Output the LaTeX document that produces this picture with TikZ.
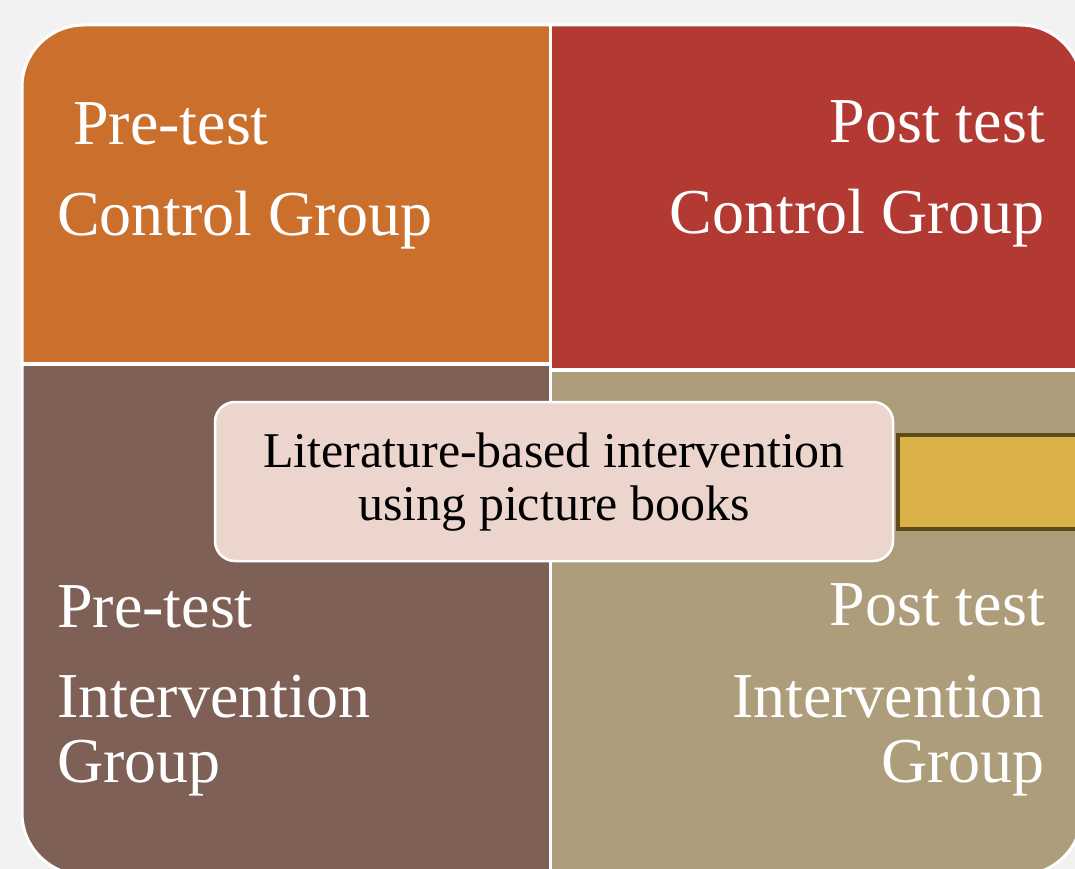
\documentclass[tikz,border=0pt]{standalone}
\usepackage{fontspec}
\setmainfont{Liberation Serif}
\begin{document}
\definecolor{pageBg}{HTML}{F2F2F2}
\definecolor{qOrange}{HTML}{CB6F2D}
\definecolor{qRed}{HTML}{B33A33}
\definecolor{qBrown}{HTML}{7F6057}
\definecolor{qTan}{HTML}{AE9D7B}
\definecolor{midPink}{HTML}{EBD5CD}
\definecolor{barYellow}{HTML}{D9B147}
\definecolor{barEdge}{HTML}{5E4A1A}
\begin{tikzpicture}[x=1pt, y=-1pt,
  bigtext/.style={text=white, inner sep=0pt, font=\fontsize{64}{65}\selectfont},
  midtext/.style={text=black, inner sep=0pt, font=\fontsize{50}{53}\selectfont},
  midbox/.style={draw=white, line width=2.5pt, fill=midPink, rounded corners=20pt},
  barbox/.style={draw=barEdge, line width=3.5pt, fill=barYellow}]
  % page
  \fill[pageBg] (0,0) rectangle (1075,869);
  \useasboundingbox (0,0) rectangle (1075,869);
  % four quadrants inside one rounded frame
  \begin{scope}
    \clip[rounded corners=62pt] (22,25) rectangle (1082,875);
    \fill[white] (22,25) rectangle (1082,875);
    \fill[qOrange] (22,25) rectangle (549,362);
    \fill[qRed] (552,25) rectangle (1082,368);
    \fill[qBrown] (22,366) rectangle (549,875);
    \fill[qTan] (552,372) rectangle (1082,875);
    % side bar behind the central box
    \path[barbox] (898,435) rectangle (1095,529);
  \end{scope}
  \draw[white, line width=3pt, rounded corners=62pt] (22,25) rectangle (1082,875);
  % central box
  \path[midbox] (215,402) rectangle (893,561);
  % texts
  \node[bigtext, anchor=base west] (tlA) at (73,145) {Pre-test};
  \node[bigtext, anchor=base west] (tlB) at (57,235) {Control Group};
  \node[bigtext, anchor=base east] (trA) at (1045,143) {Post test};
  \node[bigtext, anchor=base east] (trB) at (1045,233) {Control Group};
  \node[bigtext, anchor=base west] (blA) at (57,627) {Pre-test};
  \node[bigtext, anchor=base west] (blB) at (57,717) {Intervention};
  \node[bigtext, anchor=base west] (blC) at (57,782) {Group};
  \node[bigtext, anchor=base east] (brA) at (1045,625) {Post test};
  \node[bigtext, anchor=base east] (brB) at (1045,717) {Intervention};
  \node[bigtext, anchor=base east] (brC) at (1045,782) {Group};
  \node[midtext, anchor=base] (midA) at (554,467) {Literature-based intervention};
  \node[midtext, anchor=base] (midB) at (554,520) {using picture books};
\end{tikzpicture}
\end{document}
